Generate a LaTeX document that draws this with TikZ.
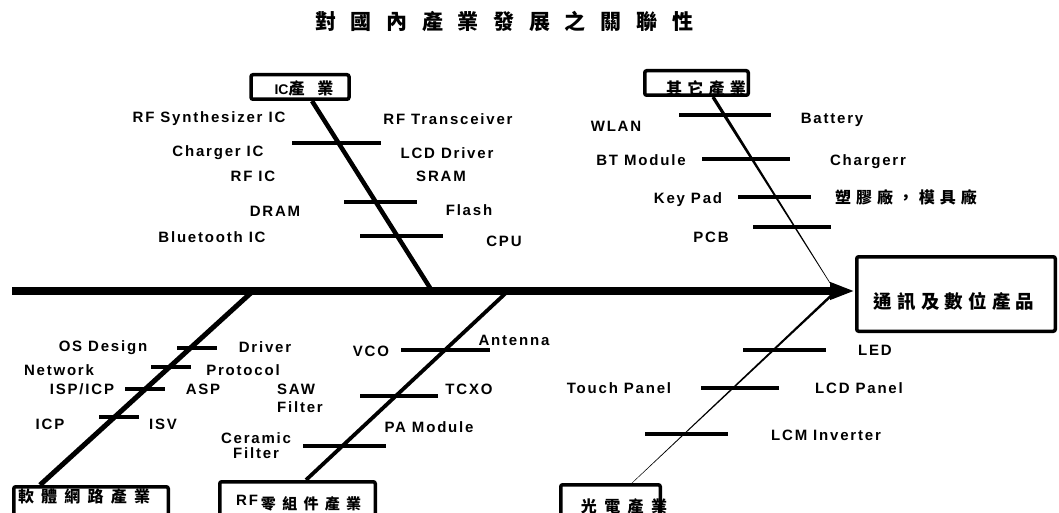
\documentclass[tikz,border=0pt]{standalone}
\usepackage{fontspec}
\setmainfont{Liberation Sans}
\newfontfamily\lat[LetterSpace=12]{Liberation Sans}
\newfontfamily\cjk{Noto Sans CJK TC}
\usetikzlibrary{arrows.meta,calc}
\tikzset{
  lab/.style={font={\lat\bfseries\fontsize{15}{17}\selectfont}, inner sep=0pt},
  ctext/.style={font={\cjk\bfseries\fontsize{16}{18}\selectfont}, inner sep=0pt},
  box/.style={draw, line width=3.5pt, rounded corners=2pt, inner sep=0pt},
  tick/.style={line width=3.5pt},
  spine/.style={line width=7.5pt, -{Triangle[length=25pt,width=16pt]}},
}
\begin{document}
\begin{tikzpicture}[x=1pt,y=-1pt]
\useasboundingbox (0,0) rectangle (1059,513);
% title
\node[font={\cjk\bfseries\fontsize{21}{23}\selectfont\addfontfeature{LetterSpace=70}}, inner sep=0pt] (title) at (504,21) {對國內產業發展之關聯性};

% effect box
\node[box, minimum width=198.5pt, minimum height=74.5pt] (eff) at (956,294) {};
\node[font={\cjk\bfseries\fontsize{18.5}{20}\selectfont\addfontfeature{LetterSpace=28}}, inner sep=0pt] (effT) at (954,302) {通訊及數位產品};

% spine
\coordinate (spL) at (12,291);
\draw[spine] (spL) -- (eff.west |- spL);

% ---------- IC ----------
\node[box, minimum width=98pt, minimum height=24.5pt] (ic) at (300,87) {};
\node[inner sep=0pt] (icT) at (304,88) {{\fontspec{Liberation Sans}\bfseries\fontsize{14}{16}\selectfont IC}{\cjk\bfseries\fontsize{16}{18}\selectfont\addfontfeature{LetterSpace=80}產業}};
\coordinate (icEnd) at (432,291);
\draw[line width=4.5pt] ([xshift=12pt]ic.south) -- (icEnd);
\draw[tick] (292,143) -- (381,143);
\draw[tick] (344,202) -- (417,202);
\draw[tick] (360,236) -- (443,236);
\node[lab] (l1) at (209,119) {RF Synthesizer IC};
\node[lab] (l2) at (448,119) {RF Transceiver};
\node[lab] (l3) at (218,153) {Charger IC};
\node[lab] (l4) at (447,153) {LCD Driver};
\node[lab] (l5) at (253,176) {RF IC};
\node[lab] (l6) at (441,176) {SRAM};
\node[lab] (l7) at (275,211) {DRAM};
\node[lab] (l8) at (469,210) {Flash};
\node[lab] (l9) at (212,237) {Bluetooth IC};
\node[lab] (l10) at (504,241) {CPU};

% ---------- Other ----------
\node[box, minimum width=103.5pt, minimum height=24.5pt] (oth) at (696.5,83) {};
\node[ctext, font={\cjk\bfseries\fontsize{16}{18}\selectfont\addfontfeature{LetterSpace=33}}] (othT) at (706,88) {其它產業};
\coordinate (othA) at ([xshift=16.5pt]oth.south);
\coordinate (othEnd) at (830,283);
\fill ($(othA)!1.7pt!90:(othEnd)$) -- ($(othEnd)!0.3pt!-90:(othA)$) -- ($(othEnd)!0.3pt!90:(othA)$) -- ($(othA)!1.7pt!-90:(othEnd)$) -- cycle;
\draw[tick] (679,115) -- (771,115);
\draw[tick] (702,159) -- (790,159);
\draw[tick] (738,197) -- (811,197);
\draw[tick] (753,227) -- (831,227);
\node[lab] (o1) at (616,126) {WLAN};
\node[lab] (o2) at (832,120) {Battery};
\node[lab] (o3) at (641,160) {BT Module};
\node[lab] (o4) at (868,162) {Chargerr};
\node[lab] (o5) at (688,200) {Key Pad};
\node[ctext, font={\cjk\bfseries\fontsize{16}{18}\selectfont\addfontfeature{LetterSpace=31}}] (o6) at (906,197) {塑膠廠，模具廠};
\node[lab] (o7) at (711,237) {PCB};

% ---------- Software ----------
\node[ctext, font={\cjk\bfseries\fontsize{16}{18}\selectfont\addfontfeature{LetterSpace=45}}] (swT) at (84,496) {軟體網路產業};
\node[box, minimum width=154.5pt, minimum height=40pt] (sw) at (91,506.75) {};
\coordinate (swEnd) at (253,291);
\draw[line width=5pt] ([xshift=-51pt]sw.north) -- (swEnd);
\draw[tick] (177,348) -- (217,348);
\draw[tick] (151,367) -- (191,367);
\draw[tick] (125,389) -- (165,389);
\draw[tick] (99,417) -- (139,417);
\node[lab] (s1) at (103,348) {OS Design};
\node[lab] (s2) at (59,370) {Network};
\node[lab] (s3) at (82,389) {ISP/ICP};
\node[lab] (s4) at (50,424) {ICP};
\node[lab] (s5) at (265,347) {Driver};
\node[lab] (s6) at (243,370) {Protocol};
\node[lab] (s7) at (203,389) {ASP};
\node[lab] (s8) at (163,424) {ISV};

% ---------- RF ----------
\node[inner sep=0pt, anchor=base west] (rfT) at (236,505) {{\lat\bfseries\fontsize{15}{17}\selectfont RF}\raisebox{-4pt}{\cjk\bfseries\fontsize{15}{17}\selectfont\addfontfeature{LetterSpace=42}\hspace{3pt}零組件產業}};
\node[box, minimum width=155.5pt, minimum height=40pt] (rf) at (297.5,501.75) {};
\coordinate (rfEnd) at (508,291);
\draw[line width=3.8pt] ([xshift=8.5pt]rf.north) -- (rfEnd);
\draw[tick] (401,350) -- (490,350);
\draw[tick] (360,396) -- (438,396);
\draw[tick] (303,446) -- (386,446);
\node[lab] (r1) at (371,351) {VCO};
\node[lab] (r2) at (514,340) {Antenna};
\node[lab, align=left] (r3) at (300,398) {SAW\\[1pt]Filter};
\node[lab] (r4) at (469,389) {TCXO};
\node[lab] (r5) at (429,427) {PA Module};
\node[lab, align=center] (r6) at (256,446) {Ceramic\\[-2pt]Filter};

% ---------- Optical ----------
\node[ctext, font={\cjk\bfseries\fontsize{16}{18}\selectfont\addfontfeature{LetterSpace=46}}] (optT) at (624,506) {光電產業};
\node[box, minimum width=99.5pt, minimum height=40pt] (opt) at (610.5,504.75) {};
\coordinate (optA) at ([xshift=21.5pt]opt.north);
\coordinate (optEnd) at (835,292);
\fill ($(optA)!0.2pt!90:(optEnd)$) -- ($(optEnd)!1.3pt!-90:(optA)$) -- ($(optEnd)!1.3pt!90:(optA)$) -- ($(optA)!0.2pt!-90:(optEnd)$) -- cycle;
\draw[tick] (743,350) -- (826,350);
\draw[tick] (701,388) -- (779,388);
\draw[tick] (645,434) -- (728,434);
\node[lab] (p1) at (875,350) {LED};
\node[lab] (p2) at (619,388) {Touch Panel};
\node[lab] (p3) at (859,388) {LCD Panel};
\node[lab] (p4) at (826,435) {LCM Inverter};
\end{tikzpicture}
\end{document}
